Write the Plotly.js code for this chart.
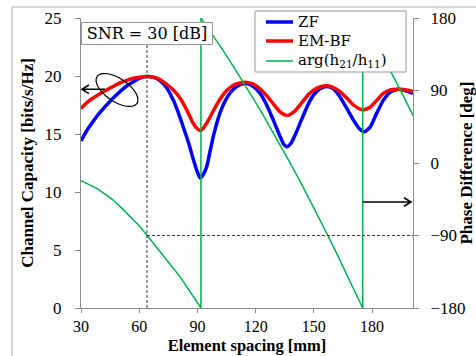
<!DOCTYPE html>
<html>
<head>
<meta charset="utf-8">
<script src="https://cdn.plot.ly/plotly-3.0.1.min.js"></script>
<style>html,body{margin:0;padding:0;background:#fff;}#chart{width:476px;height:356px;}</style>
</head>
<body>
<div id="chart"></div>
<script>
// Element spacing [mm] and channel capacity [bits/s/Hz]
const zfX = [30, 33, 36.3, 40, 43.2, 46.6, 50.1, 54, 57, 60, 63.9, 67, 70.7, 74, 77.6, 80, 82.7, 85.5, 87.9, 90, 91.5, 93, 94.8, 96.5, 98.2, 101.6, 105.1, 108.5, 112, 115.4, 118.8, 122.3, 125.7, 129.1, 132.6, 134.5, 136.3, 138.2, 140.3, 143.8, 147.2, 150, 153.2, 156.6, 160.1, 163.5, 167, 170.4, 173.8, 176, 179, 182.4, 185.8, 189.3, 193.6, 197.9, 201.1];
const zfY = [14.4, 15.3, 16.1, 16.9, 17.5, 18.1, 18.65, 19.2, 19.5, 19.8, 19.95, 19.9, 19.6, 19.0, 17.9, 16.9, 15.6, 14.2, 12.8, 11.7, 11.2, 11.5, 12.2, 13.5, 14.8, 16.8, 18.1, 18.85, 19.25, 19.35, 19.1, 18.5, 17.5, 16.2, 14.8, 14.1, 13.9, 14.2, 14.9, 16.3, 17.6, 18.4, 18.9, 19.1, 18.9, 18.2, 17.2, 16.2, 15.4, 15.2, 15.6, 16.8, 17.9, 18.6, 18.85, 18.7, 18.5];

const bfX = [30, 33, 36.3, 40, 43.2, 46.6, 50.1, 54, 57, 60, 63.9, 67, 70.7, 74, 77.6, 81, 84.4, 87.9, 90, 91.5, 93, 95, 98.2, 101.6, 105.1, 108.5, 112, 115.4, 118.8, 122.3, 125.7, 129.1, 132.6, 136.3, 140.3, 143.8, 147.2, 150, 153.2, 156.6, 160.1, 163.5, 167, 170.4, 173.8, 176, 179, 182.4, 185.8, 189.3, 193.6, 197.9, 201.1];
const bfY = [17.2, 17.7, 18.1, 18.5, 18.8, 19.1, 19.4, 19.65, 19.8, 19.9, 19.95, 19.9, 19.7, 19.3, 18.8, 18.1, 17.1, 15.9, 15.45, 15.3, 15.5, 16.0, 17.0, 18.0, 18.75, 19.2, 19.4, 19.45, 19.3, 18.9, 18.3, 17.6, 16.9, 16.6, 17.0, 17.7, 18.4, 18.8, 19.05, 19.15, 19.0, 18.65, 18.1, 17.5, 17.15, 17.1, 17.3, 17.9, 18.5, 18.8, 18.85, 18.8, 18.65];

// Phase difference arg(h21/h11) [deg]
const phX = [30, 34, 38.1, 42, 46.6, 51, 55.3, 60, 63.9, 68, 72.4, 77, 81, 86, 91.8, 91.8, 95, 98.2, 102, 106, 110, 115.4, 120, 125, 130, 135, 139, 143.8, 148, 152, 157.3, 162, 166, 170, 175.2, 175.2, 180, 185, 190.2, 195, 201.1];
const phY = [-22, -26.5, -31.4, -38, -46, -56, -66.7, -78, -89.4, -102, -116.3, -129, -141, -159, -180, 180, 169, 157.8, 144.2, 129.5, 114.4, 93.6, 75.3, 54.9, 33.9, 12.4, -5.2, -26.8, -46.2, -64.9, -90.3, -113.4, -133.4, -153.8, -180, 180, 158, 135.5, 111.3, 88.5, 59];

const seriesNames = ['ZF', 'EM-BF', 'arg(h<sub>21</sub>/h<sub>11</sub>)'];
const seriesColors = ['#0000ff', '#ff0000', '#00b050'];
const xTicks = [30, 60, 90, 120, 150, 180];
const yTicks = [0, 5, 10, 15, 20, 25];
const y2Ticks = [-180, -90, 0, 90, 180];
const snrX = 64;          // marked element spacing
const snrPhase = -90;     // marked phase

const W = 476, H = 356;
const L = 81, R = 413, T = 18, B = 308;
const XR = [30, 201.1], YR = [0, 25];
function px2x(p){ return XR[0] + (p - L) / (R - L) * (XR[1] - XR[0]); }
function py2y(p){ return YR[0] + (B - p) / (B - T) * (YR[1] - YR[0]); }
function pxp(p){ return (p - L) / (R - L); }
function pyp(p){ return (B - p) / (B - T); }
function pathFrom(pts){ return pts.map((q,i)=> (q[0]==='M'?'M':'L') + ' ' + px2x(q[1]).toFixed(3) + ',' + py2y(q[2]).toFixed(3)).join(' '); }

// ellipse decoration (pixel geometry)
const ell = [];
const cx = 117, cy = 90, ea = 24, eb = 11.5, ang = 34 * Math.PI / 180;
for (let i = 0; i <= 48; i++) {
  const t = i / 48 * 2 * Math.PI;
  const ex = ea * Math.cos(t), ey = eb * Math.sin(t);
  ell.push([i === 0 ? 'M' : 'L', cx + ex * Math.cos(ang) - ey * Math.sin(ang), cy + ex * Math.sin(ang) + ey * Math.cos(ang)]);
}
const ellPath = pathFrom(ell) + ' Z';
const arrowL = pathFrom([['M',105,89.3],['L',82,89.3]]) + ' ' + pathFrom([['M',89,85],['L',82,89.3],['L',89,93.6]]);
const arrowR = pathFrom([['M',363,202],['L',411,202]]) + ' ' + pathFrom([['M',404,197.7],['L',411,202],['L',404,206.3]]);

const serif = '"Liberation Serif", "Times New Roman", serif';
const cm = '"DejaVu Serif", serif';
const widths = [3.5, 3.5, 1.5];

const traces = [
  {x: zfX, y: zfY, name: seriesNames[0], mode: 'lines', line: {color: seriesColors[0], width: widths[0], shape: 'spline', smoothing: 0.6}},
  {x: bfX, y: bfY, name: seriesNames[1], mode: 'lines', line: {color: seriesColors[1], width: widths[1], shape: 'spline', smoothing: 0.6}},
  {x: phX, y: phY, name: seriesNames[2], mode: 'lines', yaxis: 'y2', line: {color: seriesColors[2], width: widths[2]}}
];

const axisCommon = {
  showgrid: false, zeroline: false, showline: true, linecolor: '#8c8c8c', linewidth: 1,
  ticks: 'outside', ticklen: 5, tickcolor: '#8c8c8c', tickfont: {family: serif, size: 17, color: '#000'}
};

// custom legend box (pixel geometry)
const legBox = {x0: 255, x1: 406, y0: 11, y1: 72};
const legRows = [22, 41, 61];
const legShapes = [{type: 'rect', xref: 'paper', yref: 'paper', x0: pxp(legBox.x0), x1: pxp(legBox.x1), y0: pyp(legBox.y1), y1: pyp(legBox.y0),
  line: {color: '#999', width: 1}, fillcolor: '#fff', layer: 'above'}];
const legAnn = [];
seriesNames.forEach((n, i) => {
  legShapes.push({type: 'line', xref: 'paper', yref: 'paper', x0: pxp(266), x1: pxp(293), y0: pyp(legRows[i]), y1: pyp(legRows[i]),
    line: {color: seriesColors[i], width: widths[i]}, layer: 'above'});
  legAnn.push({xref: 'paper', yref: 'paper', x: pxp(296), y: pyp(legRows[i]), xanchor: 'left', yanchor: 'middle',
    text: n, showarrow: false, font: {family: cm, size: 15, color: '#000'}});
});

const layout = {
  width: W, height: H,
  margin: {l: L, r: W - R, t: T, b: H - B, pad: 0},
  paper_bgcolor: '#fff', plot_bgcolor: '#fff',
  showlegend: false,
  xaxis: Object.assign({}, axisCommon, {range: XR, tickvals: xTicks, ticklen: 4, ticklabelstandoff: 0,
           tickfont: {family: serif, size: 16, color: '#000'},
           title: {text: '<b>Element spacing [mm]</b>', font: {family: serif, size: 16.5, color: '#000'}, standoff: 5}}),
  yaxis: Object.assign({}, axisCommon, {range: YR, tickvals: yTicks, ticklabelstandoff: 10,
           title: {text: '<b>Channel Capacity [bits/s/Hz]</b>', font: {family: serif, size: 17, color: '#000'}, standoff: 6}}),
  yaxis2: Object.assign({}, axisCommon, {range: [-180, 180], tickvals: y2Ticks, overlaying: 'y', side: 'right', ticklabelstandoff: 8,
           title: {text: '<b>Phase Difference [deg]</b>', font: {family: serif, size: 17, color: '#000'}, standoff: 4}}),
  shapes: [
    {type: 'rect', xref: 'paper', yref: 'paper', x0: pxp(12), x1: pxp(490), y0: pyp(370), y1: pyp(7),
     line: {color: '#b0b0b0', width: 1}, fillcolor: 'rgba(0,0,0,0)', layer: 'below'},
    {type: 'line', xref: 'x', yref: 'y', x0: snrX, x1: snrX, y0: 0, y1: py2y(43), line: {color: '#333', width: 1, dash: '3px,2px'}},
    {type: 'line', xref: 'x', yref: 'y2', x0: snrX, x1: XR[1], y0: snrPhase, y1: snrPhase, line: {color: '#333', width: 1, dash: '3px,2px'}},
    {type: 'path', xref: 'x', yref: 'y', path: ellPath, line: {color: '#000', width: 1.2}},
    {type: 'path', xref: 'x', yref: 'y', path: arrowL, line: {color: '#000', width: 1.6}},
    {type: 'path', xref: 'x', yref: 'y', path: arrowR, line: {color: '#000', width: 1.6}}
  ].concat(legShapes),
  annotations: [
    {xref: 'paper', yref: 'paper', x: 0, y: pyp(22), xanchor: 'left', yanchor: 'top',
     text: 'SNR = 30 [dB]', showarrow: false, font: {family: cm, size: 16, color: '#000'},
     bgcolor: '#fff', bordercolor: '#999', borderwidth: 1, borderpad: 1, width: 128, height: 19}
  ].concat(legAnn)
};

Plotly.newPlot('chart', traces, layout, {displayModeBar: false, staticPlot: true});
</script>
</body>
</html>
